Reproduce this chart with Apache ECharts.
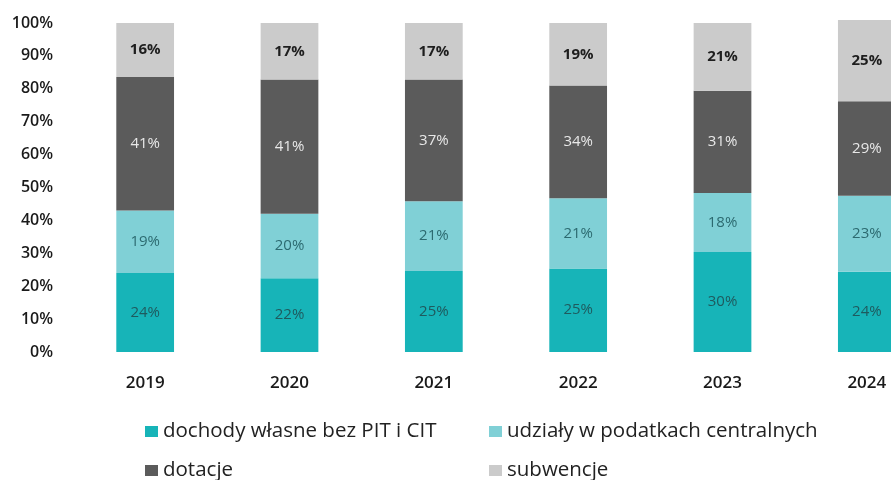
<!DOCTYPE html>
<html>
<head>
<meta charset="utf-8">
<script src="https://cdn.jsdelivr.net/npm/echarts@6/dist/echarts.min.js"></script>
<style>html,body{margin:0;padding:0;background:#fff}#c{width:891px;height:480px}</style>
</head>
<body>
<div id="c"></div>
<script>
const years = ['2019', '2020', '2021', '2022', '2023', '2024'];
const seriesNames = ['dochody własne bez PIT i CIT', 'udziały w podatkach centralnych', 'dotacje', 'subwencje'];
const dochodyWlasne = [24.0, 22.4, 24.6, 25.4, 30.4, 24.4];
const udzialy = [19.0, 19.6, 21.2, 21.3, 17.9, 23.1];
const dotacje = [40.6, 40.8, 37.0, 34.3, 31.1, 28.7];
const subwencje = [16.4, 17.2, 17.2, 19.0, 20.6, 24.7];
const yTicks = [0, 10, 20, 30, 40, 50, 60, 70, 80, 90, 100];

const colors = ['#17b4b8', '#80d0d6', '#5b5b5b', '#cbcbcb'];
const labelColors = ['#1f5a5e', '#2c6a70', '#e8e8e8', '#1e1e1e'];
const values = [dochodyWlasne, udzialy, dotacje, subwencje];
const FONT = '"Open Sans", sans-serif';

const series = seriesNames.map((name, i) => ({
  name,
  type: 'bar',
  stack: 'total',
  barWidth: '40%',
  clip: false,
  data: values[i],
  itemStyle: { color: colors[i] },
  label: {
    show: true,
    position: 'inside',
    formatter: p => Math.round(p.value) + '%',
    color: labelColors[i],
    fontFamily: FONT,
    fontSize: 15,
    fontWeight: i === 3 ? 700 : 500
  }
}));

const legendPos = [[140, 416], [484, 416], [140, 455], [484, 455]];
const legends = seriesNames.map((n, i) => ({
  data: [n],
  left: legendPos[i][0],
  top: legendPos[i][1],
  icon: 'rect',
  itemWidth: 13,
  itemHeight: 11,
  itemGap: 4,
  textStyle: { fontFamily: FONT, fontSize: 20.5, color: '#222', padding: [0, 0, 0, 0] }
}));

const chart = echarts.init(document.getElementById('c'), null, { renderer: 'canvas' });
chart.setOption({
  animation: false,
  backgroundColor: '#fff',
  grid: { left: 73, top: 23, bottom: 128, width: 866, containLabel: false, outerBoundsMode: 'none' },
  legend: legends,
  xAxis: {
    type: 'category',
    data: years,
    axisLine: { show: false },
    axisTick: { show: false },
    axisLabel: { margin: 23, color: '#1a1a1a', fontFamily: FONT, fontSize: 17, fontWeight: 600 }
  },
  yAxis: {
    type: 'value',
    min: yTicks[0],
    max: yTicks[yTicks.length - 1],
    interval: 10,
    splitLine: { show: false },
    axisLine: { show: false },
    axisTick: { show: false },
    axisLabel: { margin: 20, color: '#1a1a1a', fontFamily: FONT, fontSize: 16, fontWeight: 600, formatter: v => v + '%' }
  },
  series
});
</script>
</body>
</html>
